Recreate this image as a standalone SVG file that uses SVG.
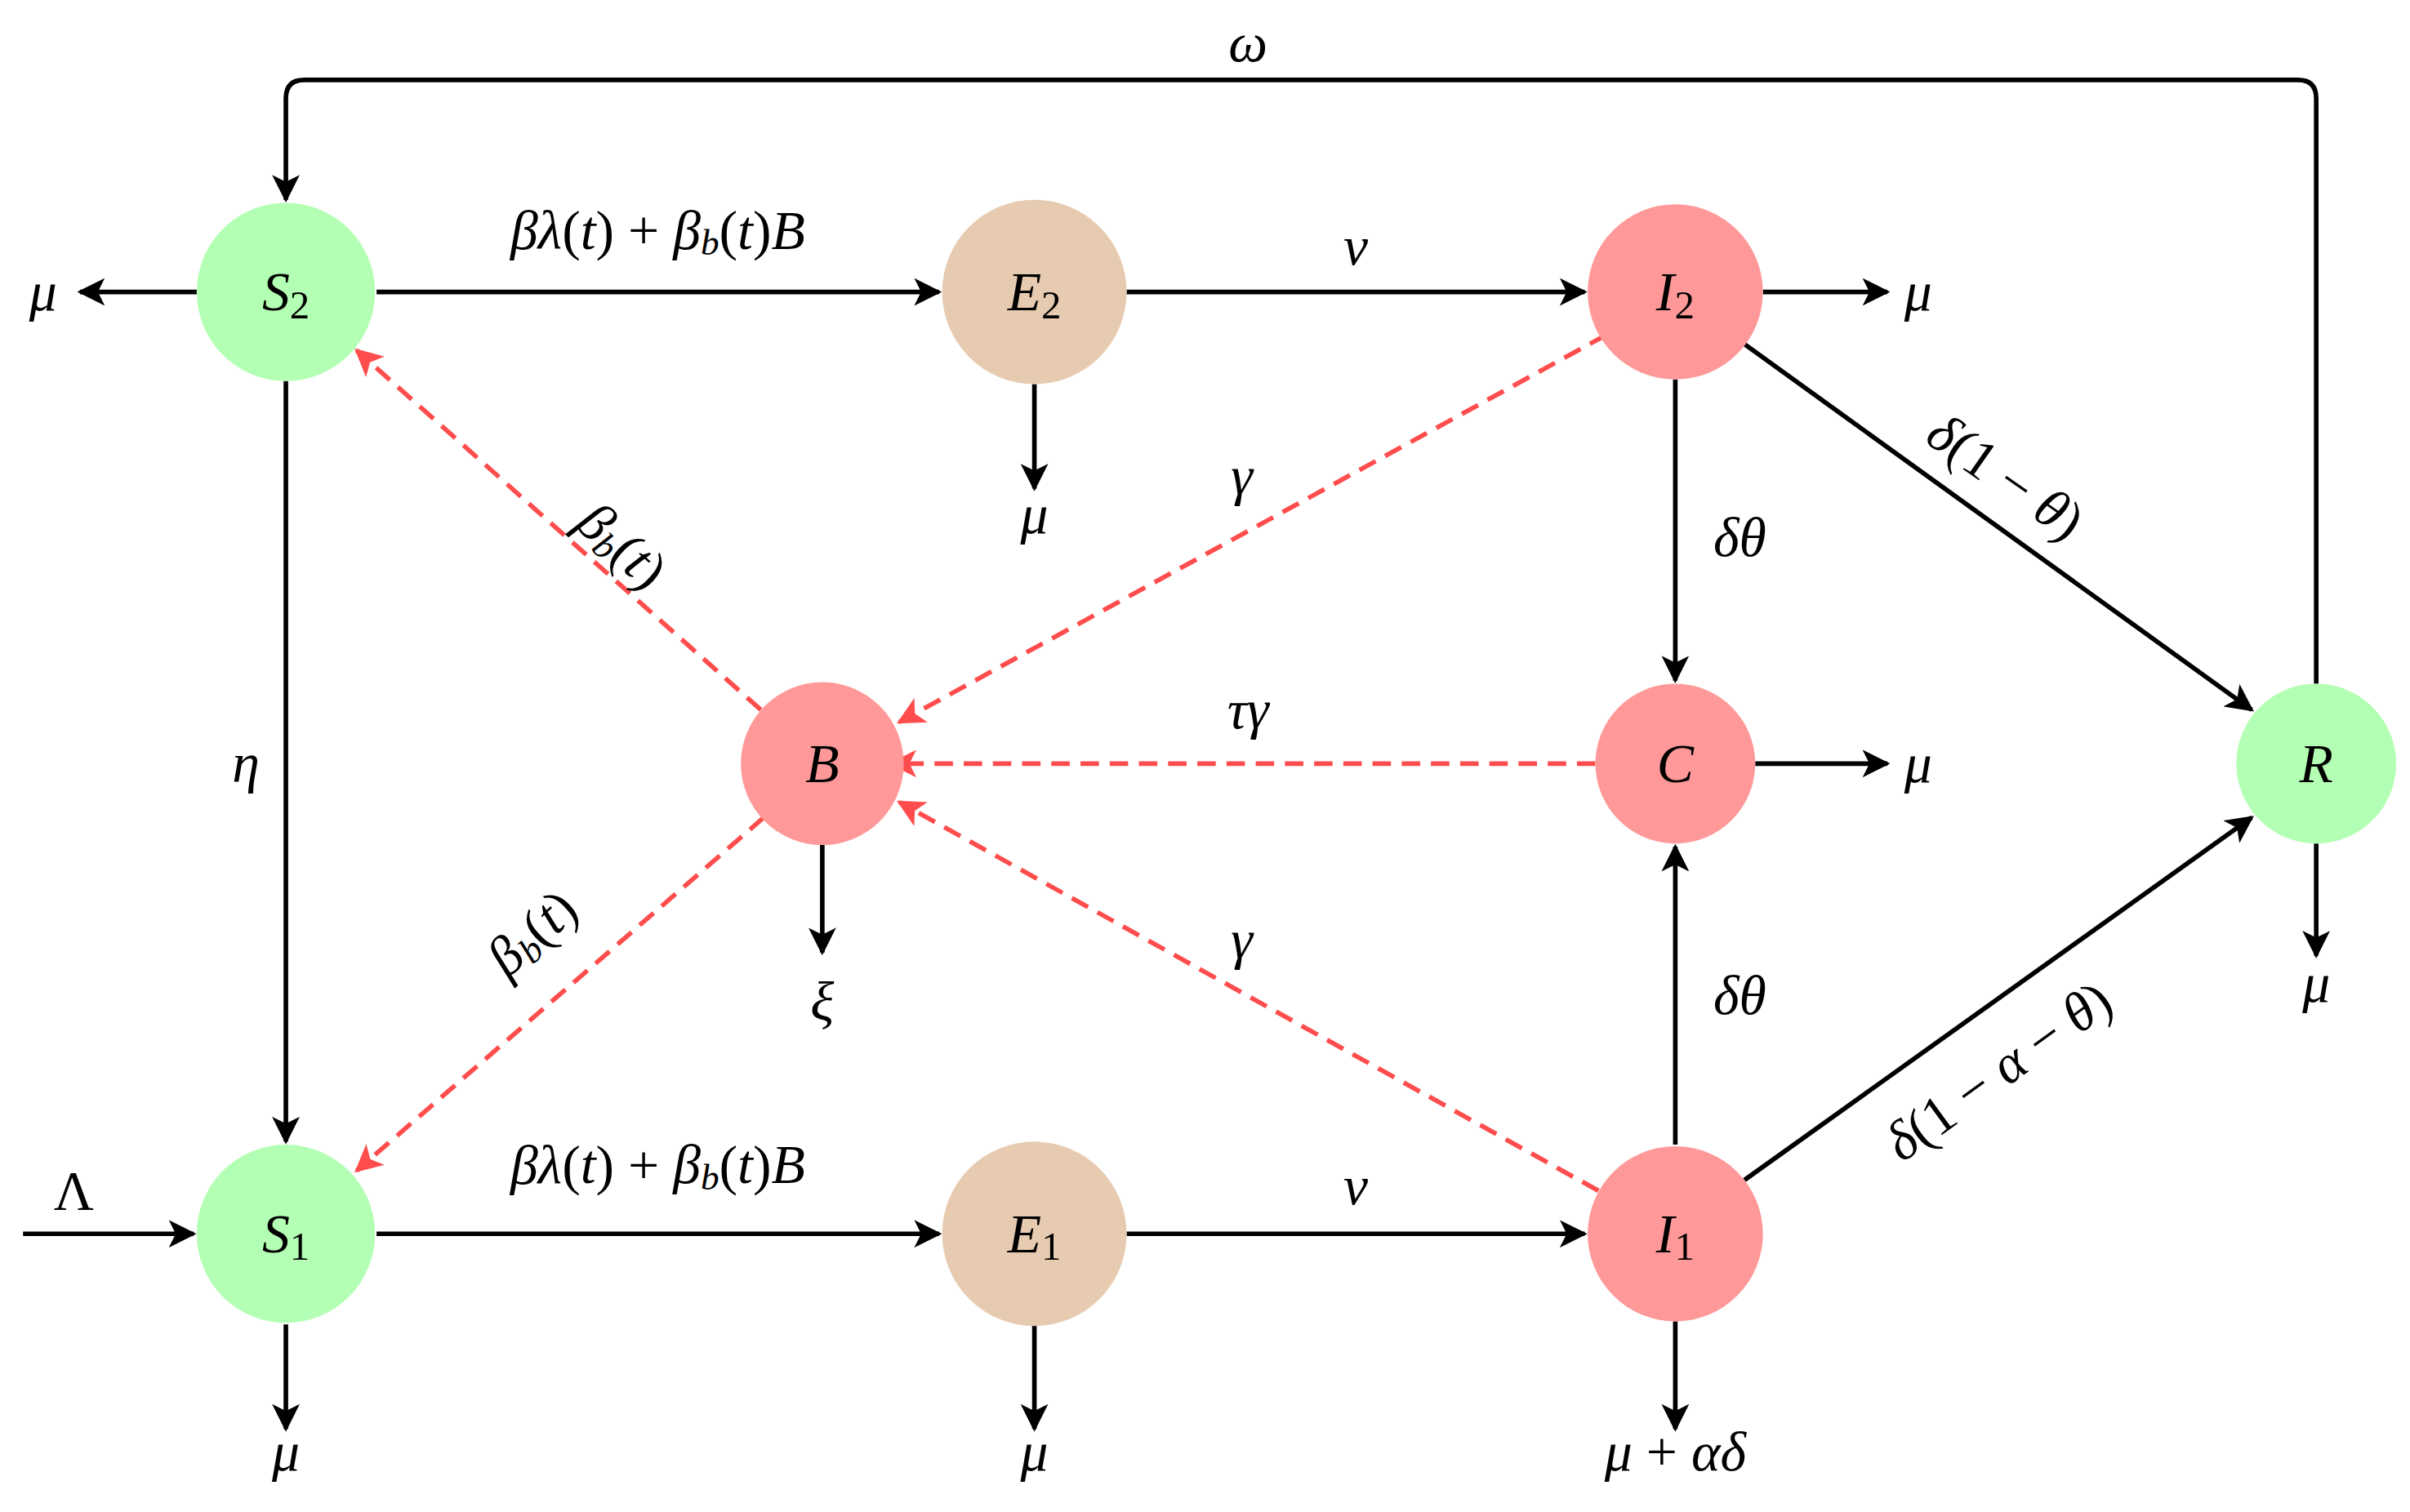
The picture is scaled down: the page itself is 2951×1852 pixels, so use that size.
<svg xmlns="http://www.w3.org/2000/svg" width="2951" height="1852" viewBox="0 0 2951 1852">
<defs>
<marker id="ak" viewBox="0 0 10 10" refX="9" refY="5" markerWidth="6" markerHeight="6" markerUnits="strokeWidth" orient="auto"><path d="M0,0 L10,5 L0,10 L2.5,5 z" fill="#000"/></marker>
<marker id="ar" viewBox="0 0 10 10" refX="9" refY="5" markerWidth="6" markerHeight="6" markerUnits="strokeWidth" orient="auto"><path d="M0,0 L10,5 L0,10 L2.5,5 z" fill="#ff4d4d"/></marker>
</defs>
<style>
.k{stroke:#000;stroke-width:3;fill:none;marker-end:url(#ak)}
.r{stroke:#ff4d4d;stroke-width:3;fill:none;stroke-dasharray:12,7;marker-end:url(#ar)}
text{font-family:"Liberation Serif","DejaVu Serif",serif;font-style:italic;font-size:36px;text-anchor:middle;dominant-baseline:central}
.up{font-style:normal}
.g{fill:#b3ffb3}.t{fill:#e6cbb0}.p{fill:#ff9999}
</style>
<rect width="2951" height="1852" fill="#fff"/>
<g transform="scale(1.882)">
<g id="connectors">
<path class="k" d="M1507,445 V64 Q1507,52 1495,52 H198 Q186,52 186,64 V130"/>
<line class="k" x1="128" y1="190" x2="52" y2="190"/>
<line class="k" x1="245" y1="190" x2="611" y2="190"/>
<line class="k" x1="733" y1="190" x2="1031" y2="190"/>
<line class="k" x1="1147" y1="190" x2="1228" y2="190"/>
<line class="k" x1="673" y1="250" x2="673" y2="318"/>
<line class="k" x1="1090" y1="247" x2="1090" y2="443"/>
<line class="k" x1="1135" y1="224" x2="1465" y2="462"/>
<line class="k" x1="186" y1="248" x2="186" y2="743"/>
<line class="r" x1="1045" y1="218" x2="585" y2="470"/>
<line class="r" x1="495" y1="462" x2="232" y2="228"/>
<line class="r" x1="1038" y1="497" x2="580" y2="497"/>
<line class="k" x1="1142" y1="497" x2="1228" y2="497"/>
<line class="k" x1="535" y1="550" x2="535" y2="620"/>
<line class="r" x1="1040" y1="775" x2="585" y2="522"/>
<line class="r" x1="497" y1="532" x2="232" y2="762"/>
<line class="k" x1="1090" y1="745" x2="1090" y2="551"/>
<line class="k" x1="1135" y1="768" x2="1465" y2="532"/>
<line class="k" x1="1507" y1="549" x2="1507" y2="622"/>
<line class="k" x1="15" y1="803" x2="126" y2="803"/>
<line class="k" x1="245" y1="803" x2="611" y2="803"/>
<line class="k" x1="733" y1="803" x2="1031" y2="803"/>
<line class="k" x1="186" y1="862" x2="186" y2="930"/>
<line class="k" x1="673" y1="862" x2="673" y2="930"/>
<line class="k" x1="1090" y1="860" x2="1090" y2="930"/>
</g>
<g id="labels">
<text x="812" y="28">ω</text>
<text x="28" y="190">μ</text>
<text x="428" y="150"><tspan>βλ</tspan><tspan class="up">(</tspan>t<tspan class="up">) + </tspan>β<tspan font-size="24" dy="8">b</tspan><tspan class="up" dy="-8">(</tspan>t<tspan class="up">)</tspan>B</text>
<text x="882" y="160">ν</text>
<text x="1248" y="190">μ</text>
<text x="673" y="335">μ</text>
<text x="1132" y="350">δθ</text>
<text x="1305" y="310" transform="rotate(35 1305 310)">δ<tspan class="up">(1 − </tspan>θ<tspan class="up">)</tspan></text>
<text x="160" y="497">η</text>
<text x="808" y="310">γ</text>
<text x="405" y="355" transform="rotate(42 405 355)">β<tspan font-size="24" dy="8">b</tspan><tspan class="up" dy="-8">(</tspan>t<tspan class="up">)</tspan></text>
<text x="812" y="462">τγ</text>
<text x="1248" y="497">μ</text>
<text x="535" y="652">ξ</text>
<text x="808" y="612">γ</text>
<text x="346" y="607" transform="rotate(-42 346 607)">β<tspan font-size="24" dy="8">b</tspan><tspan class="up" dy="-8">(</tspan>t<tspan class="up">)</tspan></text>
<text x="1132" y="648">δθ</text>
<text x="1300" y="697" transform="rotate(-36 1300 697)">δ<tspan class="up">(1 − </tspan>α<tspan class="up"> − </tspan>θ<tspan class="up">)</tspan></text>
<text x="1507" y="640">μ</text>
<text x="48" y="775" class="up">Λ</text>
<text x="428" y="758"><tspan>βλ</tspan><tspan class="up">(</tspan>t<tspan class="up">) + </tspan>β<tspan font-size="24" dy="8">b</tspan><tspan class="up" dy="-8">(</tspan>t<tspan class="up">)</tspan>B</text>
<text x="882" y="772">ν</text>
<text x="186" y="945">μ</text>
<text x="673" y="945">μ</text>
<text x="1090" y="945">μ<tspan class="up"> + </tspan>αδ</text>
</g>
<g id="S2"><circle class="g" cx="186" cy="190" r="58"/><text x="186" y="190">S<tspan class="up" font-size="26" dy="8">2</tspan></text></g>
<g id="E2"><circle class="t" cx="673" cy="190" r="60"/><text x="673" y="190">E<tspan class="up" font-size="26" dy="8">2</tspan></text></g>
<g id="I2"><circle class="p" cx="1090" cy="190" r="57"/><text x="1090" y="190">I<tspan class="up" font-size="26" dy="8">2</tspan></text></g>
<g id="B"><circle class="p" cx="535" cy="497" r="53"/><text x="535" y="497">B</text></g>
<g id="C"><circle class="p" cx="1090" cy="497" r="52"/><text x="1090" y="497">C</text></g>
<g id="R"><circle class="g" cx="1507" cy="497" r="52"/><text x="1507" y="497">R</text></g>
<g id="S1"><circle class="g" cx="186" cy="803" r="58"/><text x="186" y="803">S<tspan class="up" font-size="26" dy="8">1</tspan></text></g>
<g id="E1"><circle class="t" cx="673" cy="803" r="60"/><text x="673" y="803">E<tspan class="up" font-size="26" dy="8">1</tspan></text></g>
<g id="I1"><circle class="p" cx="1090" cy="803" r="57"/><text x="1090" y="803">I<tspan class="up" font-size="26" dy="8">1</tspan></text></g>
</g>
</svg>
